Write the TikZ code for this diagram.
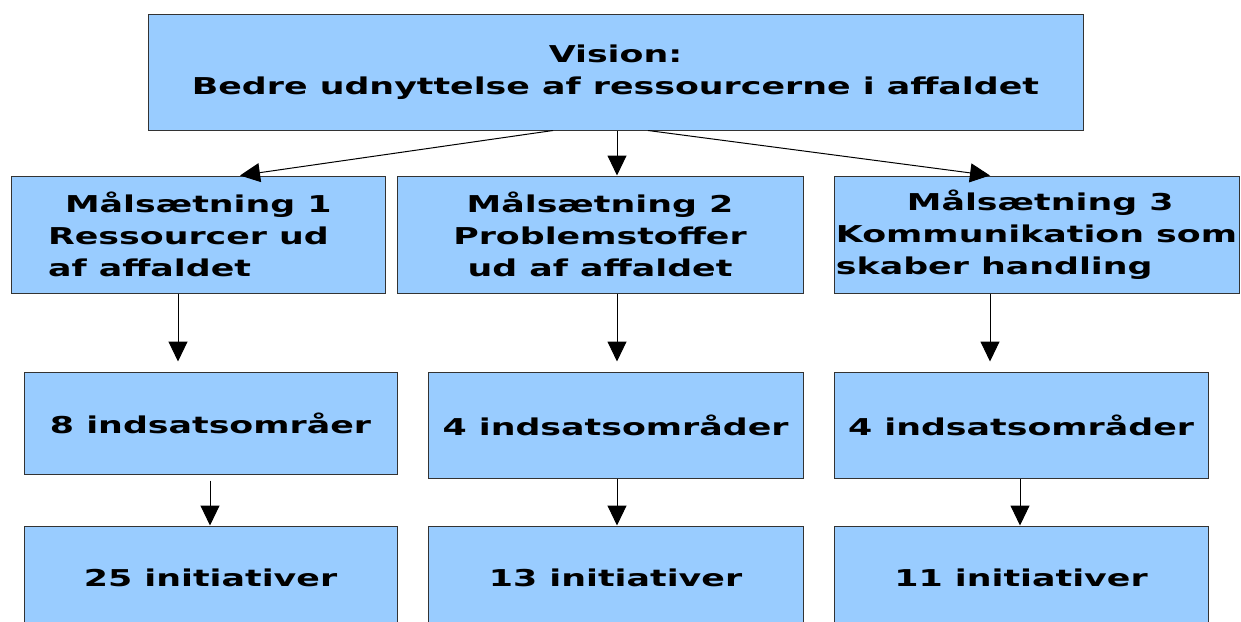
\documentclass[tikz,border=0pt]{standalone}
\usepackage{fontspec}
\newfontfamily\boxfont{DejaVu Sans Bold}[FakeStretch=1.5]
\usepackage{xcolor}
\usepackage{tikz}
\usetikzlibrary{arrows.meta}

\definecolor{boxblue}{HTML}{99CCFF}
\definecolor{boxline}{HTML}{333333}

\begin{document}
\begin{tikzpicture}[x=0.5pt, y=-0.5pt,
    box/.style={draw=boxline, line width=0.5pt, fill=boxblue, inner sep=0pt,
        font=\boxfont\fontsize{11.6}{16}\selectfont},
    arr/.style={line width=0.5pt, -{Triangle[length=10pt, width=9.5pt]}}]

    % Frame
    \useasboundingbox (0, 0) rectangle (1241, 621);
    \clip (0, 0) rectangle (1241, 621);

    % Vision
    \node[box, minimum width=467.5pt, minimum height=58pt, align=center] (vision) at (615.5, 72)
        {Vision:\\Bedre udnyttelse af ressourcerne i affaldet};

    % Goals
    \node[box, minimum width=187pt, minimum height=58.5pt, align=left] (goal1) at (198, 234.5)
        {\hspace*{8.5pt}Målsætning 1\\Ressourcer ud\rule{9.5pt}{0pt}\\af affaldet};
    \node[box, minimum width=203pt, minimum height=58.5pt, align=center] (goal2) at (600, 234.5)
        {Målsætning 2\\Problemstoffer\\ud af affaldet};
    \node[box, minimum width=202.5pt, minimum height=58.5pt, align=left] (goal3) at (1036.5, 234.5)
        {\hspace*{35.5pt}Målsætning 3\\Kommunikation som\\skaber handling};

    % Areas
    \node[box, minimum width=186.5pt, minimum height=51pt] (area1) at (210.5, 423) {8 indsatsområer};
    \node[box, minimum width=187.5pt, minimum height=53pt] (area2) at (615.5, 425) {4 indsatsområder};
    \node[box, minimum width=187pt, minimum height=53pt] (area3) at (1021, 425) {4 indsatsområder};

    % Initiatives
    \node[box, minimum width=186.5pt, minimum height=52pt] (init1) at (210.5, 578) {25 initiativer};
    \node[box, minimum width=187.5pt, minimum height=52pt] (init2) at (615.5, 578) {13 initiativer};
    \node[box, minimum width=187pt, minimum height=52pt] (init3) at (1021, 578) {11 initiativer};

    % Arrows from the vision
    \draw[arr] (553, 0 |- vision.south) -- (240, 0 |- goal1.north);
    \draw[arr] (617, 0 |- vision.south) -- (617, 0 |- goal2.north);
    \draw[arr] (648, 0 |- vision.south) -- (990, 0 |- goal3.north);

    % Arrows to the areas
    \draw[arr, shorten >=5pt] (178, 0 |- goal1.south) -- (178, 0 |- area1.north);
    \draw[arr, shorten >=5pt] (617, 0 |- goal2.south) -- (617, 0 |- area2.north);
    \draw[arr, shorten >=5pt] (990, 0 |- goal3.south) -- (990, 0 |- area3.north);

    % Arrows to the initiatives
    \draw[arr, shorten <=3pt] (210, 0 |- area1.south) -- (210, 0 |- init1.north);
    \draw[arr] (617, 0 |- area2.south) -- (617, 0 |- init2.north);
    \draw[arr] (1020, 0 |- area3.south) -- (1020, 0 |- init3.north);

\end{tikzpicture}
\end{document}
